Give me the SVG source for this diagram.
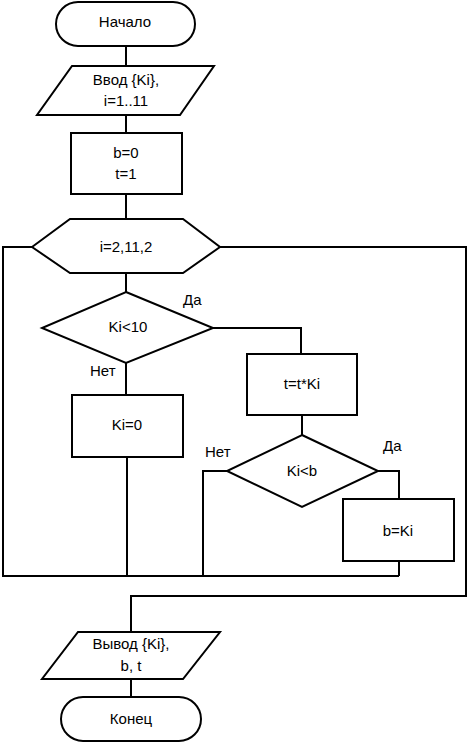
<svg xmlns="http://www.w3.org/2000/svg" width="468" height="743" viewBox="0 0 468 743">
<style>
.s{fill:#fff;stroke:#000;stroke-width:2}
.c{fill:none;stroke:#000;stroke-width:2}
text{font-family:"Liberation Sans",Arial,sans-serif;font-size:15px;fill:#000;text-anchor:middle;dominant-baseline:central}
.l{text-anchor:start}
</style>
<rect width="468" height="743" fill="#fff"/>
<g id="connectors">
<path class="c" d="M126,46V66M126,115V133M126,194V219M126,273V292M126,363V395M127,457V576"/>
<path class="c" d="M32,247H3V576H399"/>
<path class="c" d="M220,247H466V596H131V632"/>
<path class="c" d="M213,328H301V354M302,415V435"/>
<path class="c" d="M227,471H203V576M378,471H399V499M399,561V576"/>
<path class="c" d="M131,679V697"/>
</g>
<g id="start"><rect class="s" x="56" y="2" width="139" height="44" rx="22"/><text x="125" y="21">Начало</text></g>
<g id="input"><polygon class="s" points="72,66 214,66 180,115 37,115"/><text x="126" y="79">Ввод {Ki},</text><text x="126" y="100">i=1..11</text></g>
<g id="init"><rect class="s" x="71" y="133" width="111" height="61"/><text x="126" y="152">b=0</text><text x="126" y="173">t=1</text></g>
<g id="loop"><polygon class="s" points="32,247 70,219 183,219 220,247 183,273 70,273"/><text x="126" y="246">i=2,11,2</text></g>
<g id="cond1"><polygon class="s" points="126,292 213,328 126,363 42,328"/><text x="128" y="326">Ki&lt;10</text><text class="l" x="183" y="299">Да</text><text class="l" x="90" y="370">Нет</text></g>
<g id="ki0"><rect class="s" x="72" y="395" width="111" height="62"/><text x="127" y="424">Ki=0</text></g>
<g id="tmul"><rect class="s" x="247" y="354" width="110" height="61"/><text x="302" y="383">t=t*Ki</text></g>
<g id="cond2"><polygon class="s" points="302,435 378,471 302,507 227,471"/><text x="302" y="470">Ki&lt;b</text><text class="l" x="205" y="451">Нет</text><text class="l" x="383" y="445">Да</text></g>
<g id="bki"><rect class="s" x="343" y="499" width="111" height="62"/><text x="398" y="530">b=Ki</text></g>
<g id="output"><polygon class="s" points="78,632 220,632 183,679 42,679"/><text x="131" y="643">Вывод {Ki},</text><text x="131" y="665">b, t</text></g>
<g id="end"><rect class="s" x="61" y="697" width="140" height="44" rx="22"/><text x="131" y="718">Конец</text></g>
</svg>
